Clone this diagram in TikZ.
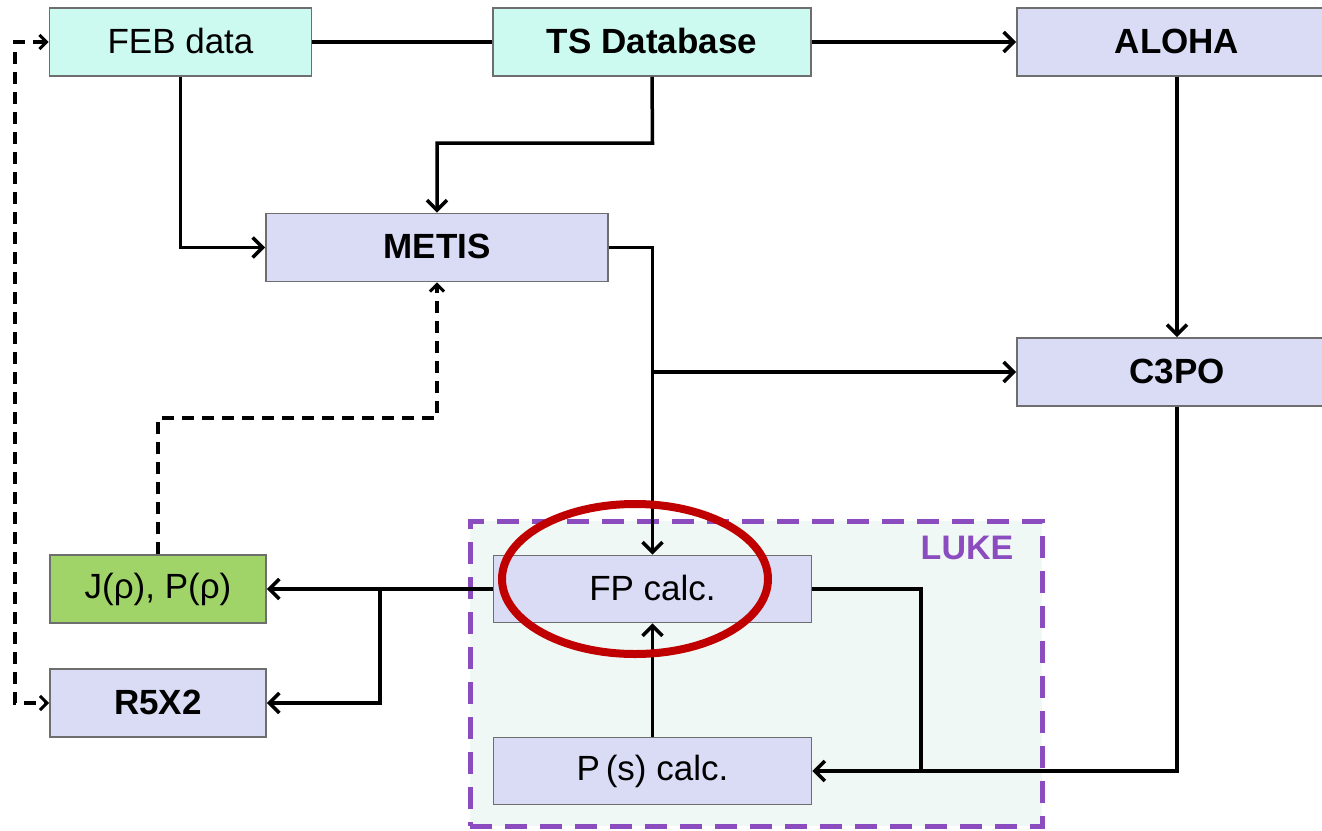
\documentclass[tikz,border=0pt]{standalone}
\usepackage{fontspec}
\setmainfont{Liberation Sans}
\usetikzlibrary{arrows.meta,shapes.geometric}
\definecolor{cyanfill}{HTML}{CCFAF0}
\definecolor{lavfill}{HTML}{DADCF5}
\definecolor{greenfill}{HTML}{A0D468}
\definecolor{lukefill}{HTML}{F0F8F5}
\definecolor{lukepurple}{HTML}{8B4CC0}
\definecolor{boxborder}{HTML}{6E6E6E}
\definecolor{ringred}{HTML}{C00000}
\tikzset{
  box/.style={draw=boxborder, line width=1.8pt, rectangle, inner sep=0pt,
    minimum height=68pt, font=\fontsize{35}{40}\selectfont},
  cyanbox/.style={box, fill=cyanfill},
  lavbox/.style={box, fill=lavfill},
  greenbox/.style={box, fill=greenfill},
  conn/.style={line width=3.5pt, draw=black,
    -{Straight Barb[length=10pt,width=20pt,line width=3.5pt]}},
  plain/.style={line width=3.5pt, draw=black},
  dconn/.style={line width=3.5pt, draw=black, dash pattern=on 12pt off 8pt,
    -{Straight Barb[length=7pt,width=14pt,line width=3pt]}},
  ddconn/.style={line width=3.5pt, draw=black, dash pattern=on 12pt off 8pt,
    {Straight Barb[length=7pt,width=14pt,line width=3pt]}-{Straight Barb[length=7pt,width=14pt,line width=3pt]}},
}
\begin{document}
\begin{tikzpicture}[x=1pt,y=-1pt]
\useasboundingbox (0,0) rectangle (1322,830);
\fill[white] (0,0) rectangle (1322,830);
\clip (0,0) rectangle (1322,830);

% LUKE container
\node[draw=lukepurple, fill=lukefill, line width=5pt, dash pattern=on 22pt off 13pt,
  minimum width=572pt, minimum height=305pt, inner sep=0pt] (luke) at (756,673.5) {};
\node[text=lukepurple, font=\fontsize{34}{38}\selectfont\bfseries] (lukelbl) at (967,548) {LUKE};

% boxes
\node[cyanbox, minimum width=262pt] (feb) at (180.5,42) {\raisebox{2pt}{FEB data}};
\node[cyanbox, minimum width=318pt, font=\fontsize{35}{40}\selectfont\bfseries] (ts) at (652,42) {\raisebox{2pt}{TS Database}};
\node[lavbox, minimum width=320pt, font=\fontsize{35}{40}\selectfont\bfseries] (aloha) at (1177,42) {\raisebox{2pt}{ALOHA}};
\node[lavbox, minimum width=342pt, font=\fontsize{35}{40}\selectfont\bfseries] (metis) at (437,247.5) {\raisebox{2pt}{METIS}};
\node[lavbox, minimum width=320pt, font=\fontsize{35}{40}\selectfont\bfseries] (c3po) at (1177,372) {\raisebox{2pt}{C3PO}};
\node[greenbox, minimum width=216pt] (jp) at (158,589) {J(ρ), P(ρ)};
\node[lavbox, minimum width=216pt, font=\fontsize{35}{40}\selectfont\bfseries] (r5x2) at (158,703) {\raisebox{2pt}{R5X2}};
\node[lavbox, minimum width=318pt, minimum height=67pt] (fp) at (652.5,589) {\raisebox{2pt}{FP calc.}};
\node[lavbox, minimum width=318pt, minimum height=67pt] (ps) at (652.5,771) {P\,(s) calc.};

% junction coordinates
\coordinate (tsdrop) at (652.5,143);
\coordinate (mj) at (652.5,372);
\coordinate (fpj) at (921,589);
\coordinate (psj) at (921,771);
\coordinate (lj) at (380,589);
\coordinate (dj) at (437,418);
\coordinate (dl1) at (15,42);
\coordinate (dl2) at (15,703);

% connectors
\draw[plain] (feb.east) -- (ts.west);
\draw[conn] (ts.east) -- (aloha.west);
\draw[conn] (feb.south) |- (metis.west);
\draw[conn] (ts.south) -- (tsdrop) -| (metis.north);
\draw[conn] (metis.east) -| (fp.north);
\draw[conn] (mj) -- (c3po.west);
\draw[conn] (aloha.south) -- (c3po.north);
\draw[conn] (c3po.south) |- (ps.east);
\draw[plain] (fp.east) -- (fpj) -- (psj);
\draw[conn] (ps.north) -- (fp.south);
\draw[conn] (fp.west) -- (jp.east);
\draw[conn] (lj) |- (r5x2.east);
\draw[dconn] (jp.north) |- (dj) -- (metis.south);
\draw[ddconn] (feb.west) -- (dl1) -- (dl2) -- (r5x2.west);

% highlight ring
\node[ellipse, draw=ringred, line width=8pt, minimum width=266pt, minimum height=150pt, inner sep=0pt] (ring) at (635,579) {};
\end{tikzpicture}
\end{document}
